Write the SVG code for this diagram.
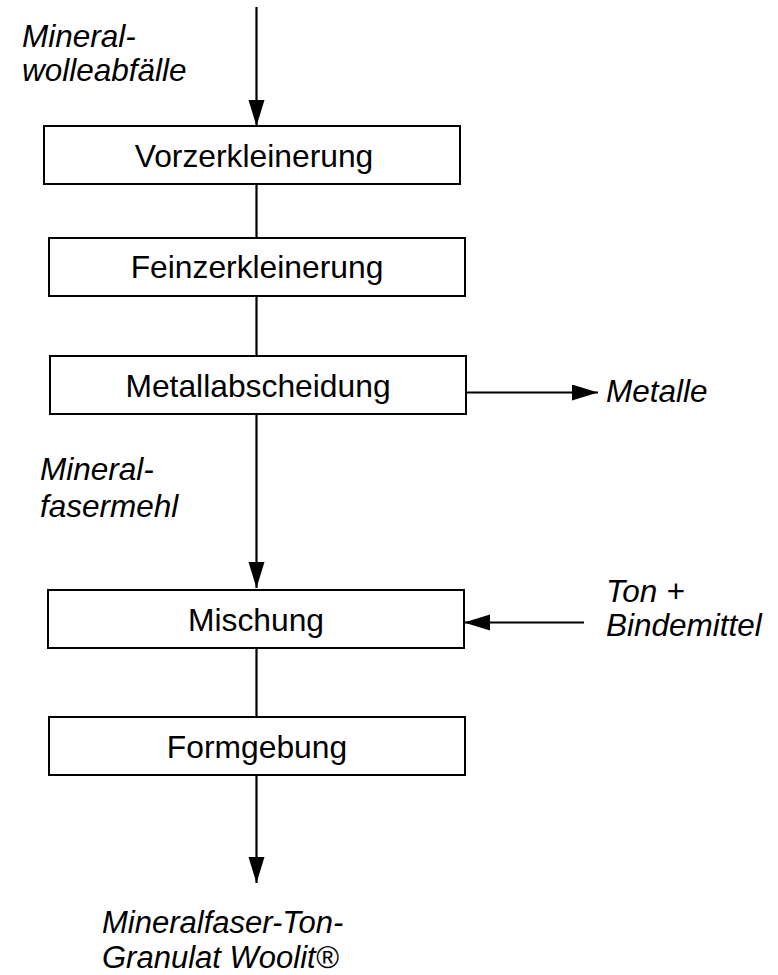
<svg xmlns="http://www.w3.org/2000/svg" width="778" height="975" viewBox="0 0 778 975">
<style>
.box{fill:#fff;stroke:#000;stroke-width:2}
.bt{font-family:"Liberation Sans",Arial,sans-serif;font-size:31.8px;text-anchor:middle;fill:#000}
.lb{font-family:"Liberation Sans",Arial,sans-serif;font-size:31.5px;font-style:italic;fill:#000}
.ln{stroke:#000;stroke-width:2.2;fill:none}
</style>
<defs>
<marker id="ah" markerUnits="userSpaceOnUse" markerWidth="28" markerHeight="18" refX="26" refY="8" orient="auto">
<path d="M0,0 L26,8 L0,16 Z" fill="#000"/>
</marker>
</defs>
<g id="connectors">
<line class="ln" x1="256.5" y1="7" x2="256.5" y2="126" marker-end="url(#ah)"/>
<line class="ln" x1="256.5" y1="184" x2="256.5" y2="238"/>
<line class="ln" x1="256.5" y1="296" x2="256.5" y2="356"/>
<line class="ln" x1="256.5" y1="414" x2="256.5" y2="588" marker-end="url(#ah)"/>
<line class="ln" x1="466" y1="392.5" x2="598" y2="392.5" marker-end="url(#ah)"/>
<line class="ln" x1="584" y1="622.5" x2="464" y2="622.5" marker-end="url(#ah)"/>
<line class="ln" x1="256.5" y1="648" x2="256.5" y2="717"/>
<line class="ln" x1="256.5" y1="775" x2="256.5" y2="883" marker-end="url(#ah)"/>
</g>
<g id="n1"><rect class="box" x="44" y="126" width="416" height="58"/><text class="bt" x="254" y="166.5">Vorzerkleinerung</text></g>
<g id="n2"><rect class="box" x="49" y="238" width="416" height="58"/><text class="bt" x="257" y="277.5">Feinzerkleinerung</text></g>
<g id="n3"><rect class="box" x="50" y="356" width="416" height="58"/><text class="bt" x="258" y="396.5">Metallabscheidung</text></g>
<g id="n4"><rect class="box" x="48" y="590" width="416" height="58"/><text class="bt" x="256" y="630.5">Mischung</text></g>
<g id="n5"><rect class="box" x="49" y="717" width="416" height="58"/><text class="bt" x="257" y="758">Formgebung</text></g>
<g id="labels">
<text class="lb" x="22" y="46.5">Mineral-</text>
<text class="lb" x="22" y="81">wolleabfälle</text>
<text class="lb" x="40" y="480">Mineral-</text>
<text class="lb" x="40" y="516.5">fasermehl</text>
<text class="lb" x="606" y="402">Metalle</text>
<text class="lb" x="606" y="601.5">Ton +</text>
<text class="lb" x="606" y="636">Bindemittel</text>
<text class="lb" x="102" y="933" style="font-size:31px">Mineralfaser-Ton-</text>
<text class="lb" x="102" y="968" style="font-size:31px">Granulat Woolit®</text>
</g>
</svg>
